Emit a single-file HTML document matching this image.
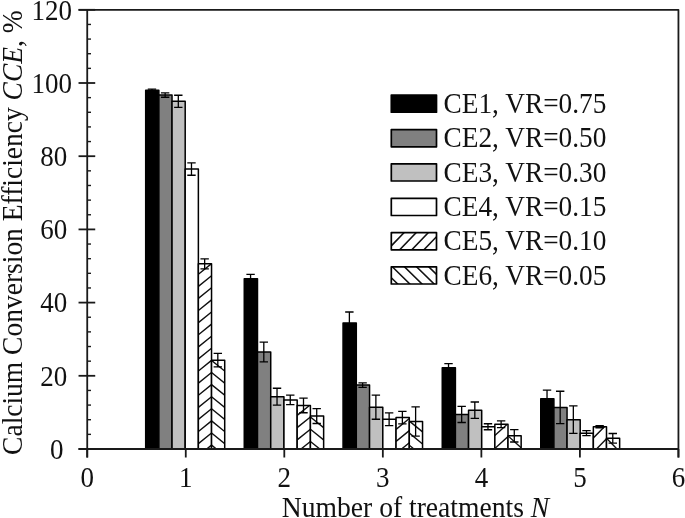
<!DOCTYPE html>
<html><head><meta charset="utf-8"><title>Chart</title>
<style>
html,body{margin:0;padding:0;background:#fff;}
body{width:685px;height:518px;overflow:hidden;}
svg{display:block;filter:grayscale(1) blur(0.35px);}
text{font-family:"Liberation Serif",serif;fill:#111;}
</style></head><body>
<svg width="685" height="518" viewBox="0 0 685 518">
<rect width="685" height="518" fill="#fff"/>
<rect x="145.69" y="90.32" width="13.17" height="358.68" fill="#000000" stroke="none"/>
<rect x="145.69" y="90.32" width="13.17" height="358.68" fill="none" stroke="#000" stroke-width="1.5" stroke-linejoin="round"/>
<rect x="158.86" y="95.08" width="13.17" height="353.92" fill="#808080" stroke="none"/>
<rect x="158.86" y="95.08" width="13.17" height="353.92" fill="none" stroke="#000" stroke-width="1.5" stroke-linejoin="round"/>
<rect x="172.03" y="101.30" width="13.17" height="347.70" fill="#c0c0c0" stroke="none"/>
<rect x="172.03" y="101.30" width="13.17" height="347.70" fill="none" stroke="#000" stroke-width="1.5" stroke-linejoin="round"/>
<rect x="185.20" y="169.01" width="13.17" height="279.99" fill="#ffffff" stroke="none"/>
<rect x="185.20" y="169.01" width="13.17" height="279.99" fill="none" stroke="#000" stroke-width="1.5" stroke-linejoin="round"/>
<rect x="198.37" y="263.80" width="13.17" height="185.20" fill="#ffffff" stroke="none"/>
<clipPath id="c1"><rect x="198.37" y="263.80" width="13.17" height="185.20"/></clipPath>
<path d="M198.37,274.27 L211.54,263.60 M198.37,286.37 L211.54,275.70 M198.37,298.47 L211.54,287.80 M198.37,310.57 L211.54,299.90 M198.37,322.67 L211.54,312.00 M198.37,334.77 L211.54,324.10 M198.37,346.87 L211.54,336.20 M198.37,358.97 L211.54,348.30 M198.37,371.07 L211.54,360.40 M198.37,383.17 L211.54,372.50 M198.37,395.27 L211.54,384.60 M198.37,407.37 L211.54,396.70 M198.37,419.47 L211.54,408.80 M198.37,431.57 L211.54,420.90 M198.37,443.67 L211.54,433.00 M198.37,455.77 L211.54,445.10" stroke="#111" stroke-width="1.4" fill="none" clip-path="url(#c1)"/>
<rect x="198.37" y="263.80" width="13.17" height="185.20" fill="none" stroke="#000" stroke-width="1.5" stroke-linejoin="round"/>
<rect x="211.54" y="360.17" width="13.17" height="88.83" fill="#ffffff" stroke="none"/>
<clipPath id="c2"><rect x="211.54" y="360.17" width="13.17" height="88.83"/></clipPath>
<path d="M211.54,360.40 L224.71,371.07 M211.54,372.50 L224.71,383.17 M211.54,384.60 L224.71,395.27 M211.54,396.70 L224.71,407.37 M211.54,408.80 L224.71,419.47 M211.54,420.90 L224.71,431.57 M211.54,433.00 L224.71,443.67 M211.54,445.10 L224.71,455.77" stroke="#111" stroke-width="1.4" fill="none" clip-path="url(#c2)"/>
<rect x="211.54" y="360.17" width="13.17" height="88.83" fill="none" stroke="#000" stroke-width="1.5" stroke-linejoin="round"/>
<path d="M151.97,89.04 L151.97,91.60 M147.78,89.04 L156.17,89.04 M147.78,91.60 L156.17,91.60" stroke="#000" stroke-width="1.3" fill="none"/>
<path d="M165.14,92.88 L165.14,97.27 M160.94,92.88 L169.34,92.88 M160.94,97.27 L169.34,97.27" stroke="#000" stroke-width="1.3" fill="none"/>
<path d="M178.31,95.26 L178.31,107.34 M174.12,95.26 L182.51,95.26 M174.12,107.34 L182.51,107.34" stroke="#000" stroke-width="1.3" fill="none"/>
<path d="M191.48,162.79 L191.48,175.23 M187.28,162.79 L195.68,162.79 M187.28,175.23 L195.68,175.23" stroke="#000" stroke-width="1.3" fill="none"/>
<path d="M204.66,258.79 L204.66,268.82 M200.46,258.79 L208.85,258.79 M200.46,268.82 L208.85,268.82" stroke="#000" stroke-width="1.3" fill="none"/>
<path d="M217.82,353.44 L217.82,366.91 M213.62,353.44 L222.02,353.44 M213.62,366.91 L222.02,366.91" stroke="#000" stroke-width="1.3" fill="none"/>
<rect x="244.26" y="278.66" width="13.23" height="170.34" fill="#000000" stroke="none"/>
<rect x="244.26" y="278.66" width="13.23" height="170.34" fill="none" stroke="#000" stroke-width="1.5" stroke-linejoin="round"/>
<rect x="257.49" y="352.01" width="13.23" height="96.99" fill="#808080" stroke="none"/>
<rect x="257.49" y="352.01" width="13.23" height="96.99" fill="none" stroke="#000" stroke-width="1.5" stroke-linejoin="round"/>
<rect x="270.72" y="396.66" width="13.23" height="52.34" fill="#c0c0c0" stroke="none"/>
<rect x="270.72" y="396.66" width="13.23" height="52.34" fill="none" stroke="#000" stroke-width="1.5" stroke-linejoin="round"/>
<rect x="283.95" y="399.96" width="13.23" height="49.04" fill="#ffffff" stroke="none"/>
<rect x="283.95" y="399.96" width="13.23" height="49.04" fill="none" stroke="#000" stroke-width="1.5" stroke-linejoin="round"/>
<rect x="297.18" y="405.45" width="13.23" height="43.55" fill="#ffffff" stroke="none"/>
<clipPath id="c3"><rect x="297.18" y="405.45" width="13.23" height="43.55"/></clipPath>
<path d="M297.18,415.33 L310.41,404.75 M297.18,427.58 L310.41,417.00 M297.18,439.83 L310.41,429.25 M297.18,452.08 L310.41,441.50" stroke="#111" stroke-width="1.4" fill="none" clip-path="url(#c3)"/>
<rect x="297.18" y="405.45" width="13.23" height="43.55" fill="none" stroke="#000" stroke-width="1.5" stroke-linejoin="round"/>
<rect x="310.41" y="416.06" width="13.23" height="32.94" fill="#ffffff" stroke="none"/>
<clipPath id="c4"><rect x="310.41" y="416.06" width="13.23" height="32.94"/></clipPath>
<path d="M310.41,404.75 L323.64,415.33 M310.41,417.00 L323.64,427.58 M310.41,429.25 L323.64,439.83 M310.41,441.50 L323.64,452.08" stroke="#111" stroke-width="1.4" fill="none" clip-path="url(#c4)"/>
<rect x="310.41" y="416.06" width="13.23" height="32.94" fill="none" stroke="#000" stroke-width="1.5" stroke-linejoin="round"/>
<path d="M250.57,274.45 L250.57,282.87 M246.38,274.45 L254.77,274.45 M246.38,282.87 L254.77,282.87" stroke="#000" stroke-width="1.3" fill="none"/>
<path d="M263.81,342.13 L263.81,361.89 M259.61,342.13 L268.00,342.13 M259.61,361.89 L268.00,361.89" stroke="#000" stroke-width="1.3" fill="none"/>
<path d="M277.03,388.24 L277.03,405.08 M272.83,388.24 L281.23,388.24 M272.83,405.08 L281.23,405.08" stroke="#000" stroke-width="1.3" fill="none"/>
<path d="M290.26,395.20 L290.26,404.71 M286.06,395.20 L294.46,395.20 M286.06,404.71 L294.46,404.71" stroke="#000" stroke-width="1.3" fill="none"/>
<path d="M303.50,398.13 L303.50,412.77 M299.30,398.13 L307.69,398.13 M299.30,412.77 L307.69,412.77" stroke="#000" stroke-width="1.3" fill="none"/>
<path d="M316.72,408.63 L316.72,423.49 M312.52,408.63 L320.92,408.63 M312.52,423.49 L320.92,423.49" stroke="#000" stroke-width="1.3" fill="none"/>
<rect x="343.05" y="322.91" width="13.25" height="126.09" fill="#000000" stroke="none"/>
<rect x="343.05" y="322.91" width="13.25" height="126.09" fill="none" stroke="#000" stroke-width="1.5" stroke-linejoin="round"/>
<rect x="356.30" y="385.06" width="13.25" height="63.94" fill="#808080" stroke="none"/>
<rect x="356.30" y="385.06" width="13.25" height="63.94" fill="none" stroke="#000" stroke-width="1.5" stroke-linejoin="round"/>
<rect x="369.55" y="407.17" width="13.25" height="41.83" fill="#c0c0c0" stroke="none"/>
<rect x="369.55" y="407.17" width="13.25" height="41.83" fill="none" stroke="#000" stroke-width="1.5" stroke-linejoin="round"/>
<rect x="382.80" y="419.28" width="13.25" height="29.72" fill="#ffffff" stroke="none"/>
<rect x="382.80" y="419.28" width="13.25" height="29.72" fill="none" stroke="#000" stroke-width="1.5" stroke-linejoin="round"/>
<rect x="396.05" y="417.56" width="13.25" height="31.44" fill="#ffffff" stroke="none"/>
<clipPath id="c5"><rect x="396.05" y="417.56" width="13.25" height="31.44"/></clipPath>
<path d="M396.05,417.27 L409.30,406.40 M396.05,429.37 L409.30,418.50 M396.05,441.47 L409.30,430.60 M396.05,453.57 L409.30,442.70" stroke="#111" stroke-width="1.4" fill="none" clip-path="url(#c5)"/>
<rect x="396.05" y="417.56" width="13.25" height="31.44" fill="none" stroke="#000" stroke-width="1.5" stroke-linejoin="round"/>
<rect x="409.30" y="421.55" width="13.25" height="27.45" fill="#ffffff" stroke="none"/>
<clipPath id="c6"><rect x="409.30" y="421.55" width="13.25" height="27.45"/></clipPath>
<path d="M409.30,421.00 L422.55,431.87 M409.30,433.10 L422.55,443.97 M409.30,445.20 L422.55,456.07" stroke="#111" stroke-width="1.4" fill="none" clip-path="url(#c6)"/>
<rect x="409.30" y="421.55" width="13.25" height="27.45" fill="none" stroke="#000" stroke-width="1.5" stroke-linejoin="round"/>
<path d="M349.38,312.01 L349.38,333.82 M345.18,312.01 L353.57,312.01 M345.18,333.82 L353.57,333.82" stroke="#000" stroke-width="1.3" fill="none"/>
<path d="M362.62,382.79 L362.62,387.33 M358.43,382.79 L366.82,382.79 M358.43,387.33 L366.82,387.33" stroke="#000" stroke-width="1.3" fill="none"/>
<path d="M375.88,395.09 L375.88,419.24 M371.68,395.09 L380.07,395.09 M371.68,419.24 L380.07,419.24" stroke="#000" stroke-width="1.3" fill="none"/>
<path d="M389.12,412.95 L389.12,425.61 M384.93,412.95 L393.32,412.95 M384.93,425.61 L393.32,425.61" stroke="#000" stroke-width="1.3" fill="none"/>
<path d="M402.38,411.34 L402.38,423.78 M398.18,411.34 L406.57,411.34 M398.18,423.78 L406.57,423.78" stroke="#000" stroke-width="1.3" fill="none"/>
<path d="M415.62,406.91 L415.62,436.19 M411.43,406.91 L419.82,406.91 M411.43,436.19 L419.82,436.19" stroke="#000" stroke-width="1.3" fill="none"/>
<rect x="442.25" y="367.75" width="13.15" height="81.25" fill="#000000" stroke="none"/>
<rect x="442.25" y="367.75" width="13.15" height="81.25" fill="none" stroke="#000" stroke-width="1.5" stroke-linejoin="round"/>
<rect x="455.40" y="414.45" width="13.15" height="34.55" fill="#808080" stroke="none"/>
<rect x="455.40" y="414.45" width="13.15" height="34.55" fill="none" stroke="#000" stroke-width="1.5" stroke-linejoin="round"/>
<rect x="468.55" y="410.20" width="13.15" height="38.80" fill="#c0c0c0" stroke="none"/>
<rect x="468.55" y="410.20" width="13.15" height="38.80" fill="none" stroke="#000" stroke-width="1.5" stroke-linejoin="round"/>
<rect x="481.70" y="426.75" width="13.15" height="22.25" fill="#ffffff" stroke="none"/>
<rect x="481.70" y="426.75" width="13.15" height="22.25" fill="none" stroke="#000" stroke-width="1.5" stroke-linejoin="round"/>
<rect x="494.85" y="424.26" width="13.15" height="24.74" fill="#ffffff" stroke="none"/>
<clipPath id="c7"><rect x="494.85" y="424.26" width="13.15" height="24.74"/></clipPath>
<path d="M494.85,435.44 L508.00,423.60 M494.85,448.44 L508.00,436.60 M494.85,461.44 L508.00,449.60" stroke="#111" stroke-width="1.4" fill="none" clip-path="url(#c7)"/>
<rect x="494.85" y="424.26" width="13.15" height="24.74" fill="none" stroke="#000" stroke-width="1.5" stroke-linejoin="round"/>
<rect x="508.00" y="435.86" width="13.15" height="13.14" fill="#ffffff" stroke="none"/>
<clipPath id="c8"><rect x="508.00" y="435.86" width="13.15" height="13.14"/></clipPath>
<path d="M508.00,435.90 L521.15,447.73 M508.00,448.90 L521.15,460.73" stroke="#111" stroke-width="1.4" fill="none" clip-path="url(#c8)"/>
<rect x="508.00" y="435.86" width="13.15" height="13.14" fill="none" stroke="#000" stroke-width="1.5" stroke-linejoin="round"/>
<path d="M448.52,363.72 L448.52,371.77 M444.32,363.72 L452.72,363.72 M444.32,371.77 L452.72,371.77" stroke="#000" stroke-width="1.3" fill="none"/>
<path d="M461.67,406.40 L461.67,422.50 M457.47,406.40 L465.87,406.40 M457.47,422.50 L465.87,422.50" stroke="#000" stroke-width="1.3" fill="none"/>
<path d="M474.82,402.01 L474.82,418.40 M470.62,402.01 L479.02,402.01 M470.62,418.40 L479.02,418.40" stroke="#000" stroke-width="1.3" fill="none"/>
<path d="M487.97,423.75 L487.97,429.75 M483.77,423.75 L492.17,423.75 M483.77,429.75 L492.17,429.75" stroke="#000" stroke-width="1.3" fill="none"/>
<path d="M501.12,420.85 L501.12,427.66 M496.93,420.85 L505.32,420.85 M496.93,427.66 L505.32,427.66" stroke="#000" stroke-width="1.3" fill="none"/>
<path d="M514.28,429.71 L514.28,442.01 M510.08,429.71 L518.48,429.71 M510.08,442.01 L518.48,442.01" stroke="#000" stroke-width="1.3" fill="none"/>
<rect x="540.75" y="398.75" width="13.15" height="50.25" fill="#000000" stroke="none"/>
<rect x="540.75" y="398.75" width="13.15" height="50.25" fill="none" stroke="#000" stroke-width="1.5" stroke-linejoin="round"/>
<rect x="553.90" y="407.46" width="13.15" height="41.54" fill="#808080" stroke="none"/>
<rect x="553.90" y="407.46" width="13.15" height="41.54" fill="none" stroke="#000" stroke-width="1.5" stroke-linejoin="round"/>
<rect x="567.05" y="419.65" width="13.15" height="29.35" fill="#c0c0c0" stroke="none"/>
<rect x="567.05" y="419.65" width="13.15" height="29.35" fill="none" stroke="#000" stroke-width="1.5" stroke-linejoin="round"/>
<rect x="580.20" y="433.15" width="13.15" height="15.85" fill="#ffffff" stroke="none"/>
<rect x="580.20" y="433.15" width="13.15" height="15.85" fill="none" stroke="#000" stroke-width="1.5" stroke-linejoin="round"/>
<rect x="593.35" y="426.67" width="13.15" height="22.33" fill="#ffffff" stroke="none"/>
<clipPath id="c9"><rect x="593.35" y="426.67" width="13.15" height="22.33"/></clipPath>
<path d="M593.35,438.01 L606.50,424.60 M593.35,452.21 L606.50,438.80" stroke="#111" stroke-width="1.4" fill="none" clip-path="url(#c9)"/>
<rect x="593.35" y="426.67" width="13.15" height="22.33" fill="none" stroke="#000" stroke-width="1.5" stroke-linejoin="round"/>
<rect x="606.50" y="438.28" width="13.15" height="10.72" fill="#ffffff" stroke="none"/>
<clipPath id="c10"><rect x="606.50" y="438.28" width="13.15" height="10.72"/></clipPath>
<path d="M606.50,424.10 L619.65,437.51 M606.50,438.30 L619.65,451.71" stroke="#111" stroke-width="1.4" fill="none" clip-path="url(#c10)"/>
<rect x="606.50" y="438.28" width="13.15" height="10.72" fill="none" stroke="#000" stroke-width="1.5" stroke-linejoin="round"/>
<path d="M547.03,390.04 L547.03,407.46 M542.83,390.04 L551.23,390.04 M542.83,407.46 L551.23,407.46" stroke="#000" stroke-width="1.3" fill="none"/>
<path d="M560.18,391.25 L560.18,423.67 M555.98,391.25 L564.38,391.25 M555.98,423.67 L564.38,423.67" stroke="#000" stroke-width="1.3" fill="none"/>
<path d="M573.33,405.96 L573.33,433.34 M569.12,405.96 L577.53,405.96 M569.12,433.34 L577.53,433.34" stroke="#000" stroke-width="1.3" fill="none"/>
<path d="M586.48,430.66 L586.48,435.64 M582.28,430.66 L590.68,430.66 M582.28,435.64 L590.68,435.64" stroke="#000" stroke-width="1.3" fill="none"/>
<path d="M599.63,425.58 L599.63,427.77 M595.43,425.58 L603.83,425.58 M595.43,427.77 L603.83,427.77" stroke="#000" stroke-width="1.3" fill="none"/>
<path d="M612.78,433.52 L612.78,443.03 M608.58,433.52 L616.98,433.52 M608.58,443.03 L616.98,443.03" stroke="#000" stroke-width="1.3" fill="none"/>
<path d="M78.53,9.80 L678.44,9.80 L678.44,457.50 M87.23,9.80 L87.23,457.50 M78.53,449.00 L678.44,449.00" stroke="#1a1a1a" stroke-width="1.8" fill="none" stroke-linejoin="round"/>
<path d="M78.53,449.00 L95.23,449.00" stroke="#1a1a1a" stroke-width="1.8"/>
<path d="M87.23,434.36 L91.03,434.36" stroke="#1a1a1a" stroke-width="1.4"/>
<path d="M87.23,419.72 L91.03,419.72" stroke="#1a1a1a" stroke-width="1.4"/>
<path d="M87.23,405.08 L91.03,405.08" stroke="#1a1a1a" stroke-width="1.4"/>
<path d="M87.23,390.44 L91.03,390.44" stroke="#1a1a1a" stroke-width="1.4"/>
<path d="M78.53,375.80 L95.23,375.80" stroke="#1a1a1a" stroke-width="1.8"/>
<path d="M87.23,361.16 L91.03,361.16" stroke="#1a1a1a" stroke-width="1.4"/>
<path d="M87.23,346.52 L91.03,346.52" stroke="#1a1a1a" stroke-width="1.4"/>
<path d="M87.23,331.88 L91.03,331.88" stroke="#1a1a1a" stroke-width="1.4"/>
<path d="M87.23,317.24 L91.03,317.24" stroke="#1a1a1a" stroke-width="1.4"/>
<path d="M78.53,302.60 L95.23,302.60" stroke="#1a1a1a" stroke-width="1.8"/>
<path d="M87.23,287.96 L91.03,287.96" stroke="#1a1a1a" stroke-width="1.4"/>
<path d="M87.23,273.32 L91.03,273.32" stroke="#1a1a1a" stroke-width="1.4"/>
<path d="M87.23,258.68 L91.03,258.68" stroke="#1a1a1a" stroke-width="1.4"/>
<path d="M87.23,244.04 L91.03,244.04" stroke="#1a1a1a" stroke-width="1.4"/>
<path d="M78.53,229.40 L95.23,229.40" stroke="#1a1a1a" stroke-width="1.8"/>
<path d="M87.23,214.76 L91.03,214.76" stroke="#1a1a1a" stroke-width="1.4"/>
<path d="M87.23,200.12 L91.03,200.12" stroke="#1a1a1a" stroke-width="1.4"/>
<path d="M87.23,185.48 L91.03,185.48" stroke="#1a1a1a" stroke-width="1.4"/>
<path d="M87.23,170.84 L91.03,170.84" stroke="#1a1a1a" stroke-width="1.4"/>
<path d="M78.53,156.20 L95.23,156.20" stroke="#1a1a1a" stroke-width="1.8"/>
<path d="M87.23,141.56 L91.03,141.56" stroke="#1a1a1a" stroke-width="1.4"/>
<path d="M87.23,126.92 L91.03,126.92" stroke="#1a1a1a" stroke-width="1.4"/>
<path d="M87.23,112.28 L91.03,112.28" stroke="#1a1a1a" stroke-width="1.4"/>
<path d="M87.23,97.64 L91.03,97.64" stroke="#1a1a1a" stroke-width="1.4"/>
<path d="M78.53,83.00 L95.23,83.00" stroke="#1a1a1a" stroke-width="1.8"/>
<path d="M87.23,68.36 L91.03,68.36" stroke="#1a1a1a" stroke-width="1.4"/>
<path d="M87.23,53.72 L91.03,53.72" stroke="#1a1a1a" stroke-width="1.4"/>
<path d="M87.23,39.08 L91.03,39.08" stroke="#1a1a1a" stroke-width="1.4"/>
<path d="M87.23,24.44 L91.03,24.44" stroke="#1a1a1a" stroke-width="1.4"/>
<path d="M78.53,9.80 L95.23,9.80" stroke="#1a1a1a" stroke-width="1.8"/>
<path d="M87.23,449.00 L87.23,457.50" stroke="#1a1a1a" stroke-width="1.8"/>
<path d="M185.77,449.00 L185.77,457.50" stroke="#1a1a1a" stroke-width="1.8"/>
<path d="M284.30,449.00 L284.30,457.50" stroke="#1a1a1a" stroke-width="1.8"/>
<path d="M382.84,449.00 L382.84,457.50" stroke="#1a1a1a" stroke-width="1.8"/>
<path d="M481.37,449.00 L481.37,457.50" stroke="#1a1a1a" stroke-width="1.8"/>
<path d="M579.91,449.00 L579.91,457.50" stroke="#1a1a1a" stroke-width="1.8"/>
<path d="M678.44,449.00 L678.44,457.50" stroke="#1a1a1a" stroke-width="1.8"/>
<text transform="translate(63.40,458.80) scale(1,1.07)" text-anchor="end" font-size="27.0">0</text>
<text transform="translate(67.20,385.60) scale(1,1.07)" text-anchor="end" font-size="27.0">20</text>
<text transform="translate(67.20,312.40) scale(1,1.07)" text-anchor="end" font-size="27.0">40</text>
<text transform="translate(67.20,239.20) scale(1,1.07)" text-anchor="end" font-size="27.0">60</text>
<text transform="translate(67.20,166.00) scale(1,1.07)" text-anchor="end" font-size="27.0">80</text>
<text transform="translate(72.00,92.80) scale(1,1.07)" text-anchor="end" font-size="27.0">100</text>
<text transform="translate(72.00,19.60) scale(1,1.07)" text-anchor="end" font-size="27.0">120</text>
<text transform="translate(87.23,487.00) scale(1,1.07)" text-anchor="middle" font-size="27.0">0</text>
<text transform="translate(185.77,487.00) scale(1,1.07)" text-anchor="middle" font-size="27.0">1</text>
<text transform="translate(284.30,487.00) scale(1,1.07)" text-anchor="middle" font-size="27.0">2</text>
<text transform="translate(382.84,487.00) scale(1,1.07)" text-anchor="middle" font-size="27.0">3</text>
<text transform="translate(481.37,487.00) scale(1,1.07)" text-anchor="middle" font-size="27.0">4</text>
<text transform="translate(579.91,487.00) scale(1,1.07)" text-anchor="middle" font-size="27.0">5</text>
<text transform="translate(678.44,487.00) scale(1,1.07)" text-anchor="middle" font-size="27.0">6</text>
<text transform="translate(281.80,516.60) scale(1,1.07)" text-anchor="start" font-size="27.6">Number of treatments <tspan font-style="italic">N</tspan></text>
<text transform="translate(21.80,454.90) rotate(-90) scale(1,1.07)" text-anchor="start" font-size="27.5">Calcium Conversion Efficiency <tspan font-style="italic">CCE</tspan>, %</text>
<rect x="391.3" y="95.00" width="45.20" height="17.20" fill="#000000" stroke="none"/>
<rect x="391.3" y="95.00" width="45.20" height="17.20" fill="none" stroke="#000" stroke-width="1.7" stroke-linejoin="round"/>
<text transform="translate(443.60,112.70) scale(1,1.07)" text-anchor="start" font-size="27.3">CE1, VR=0.75</text>
<rect x="391.3" y="129.60" width="45.20" height="17.20" fill="#808080" stroke="none"/>
<rect x="391.3" y="129.60" width="45.20" height="17.20" fill="none" stroke="#000" stroke-width="1.7" stroke-linejoin="round"/>
<text transform="translate(443.60,147.30) scale(1,1.07)" text-anchor="start" font-size="27.3">CE2, VR=0.50</text>
<rect x="391.3" y="163.80" width="45.20" height="17.20" fill="#c0c0c0" stroke="none"/>
<rect x="391.3" y="163.80" width="45.20" height="17.20" fill="none" stroke="#000" stroke-width="1.7" stroke-linejoin="round"/>
<text transform="translate(443.60,181.50) scale(1,1.07)" text-anchor="start" font-size="27.3">CE3, VR=0.30</text>
<rect x="391.3" y="198.30" width="45.20" height="17.20" fill="#ffffff" stroke="none"/>
<rect x="391.3" y="198.30" width="45.20" height="17.20" fill="none" stroke="#000" stroke-width="1.7" stroke-linejoin="round"/>
<text transform="translate(443.60,216.00) scale(1,1.07)" text-anchor="start" font-size="27.3">CE4, VR=0.15</text>
<rect x="391.3" y="232.60" width="45.20" height="17.20" fill="#ffffff" stroke="none"/>
<clipPath id="c11"><rect x="391.3" y="232.60" width="45.20" height="17.20"/></clipPath>
<path d="M391.30,233.31 L436.50,186.30 M391.30,245.91 L436.50,198.90 M391.30,258.51 L436.50,211.50 M391.30,271.11 L436.50,224.10 M391.30,283.71 L436.50,236.70 M391.30,296.31 L436.50,249.30" stroke="#111" stroke-width="1.55" fill="none" clip-path="url(#c11)"/>
<rect x="391.3" y="232.60" width="45.20" height="17.20" fill="none" stroke="#000" stroke-width="1.7" stroke-linejoin="round"/>
<text transform="translate(443.60,250.30) scale(1,1.07)" text-anchor="start" font-size="27.3">CE5, VR=0.10</text>
<rect x="391.3" y="266.80" width="45.20" height="17.20" fill="#ffffff" stroke="none"/>
<clipPath id="c12"><rect x="391.3" y="266.80" width="45.20" height="17.20"/></clipPath>
<path d="M391.30,230.12 L436.50,274.42 M391.30,242.02 L436.50,286.32 M391.30,253.92 L436.50,298.22 M391.30,265.82 L436.50,310.12 M391.30,277.72 L436.50,322.02" stroke="#111" stroke-width="1.55" fill="none" clip-path="url(#c12)"/>
<rect x="391.3" y="266.80" width="45.20" height="17.20" fill="none" stroke="#000" stroke-width="1.7" stroke-linejoin="round"/>
<text transform="translate(443.60,284.50) scale(1,1.07)" text-anchor="start" font-size="27.3">CE6, VR=0.05</text>
</svg>
</body></html>
